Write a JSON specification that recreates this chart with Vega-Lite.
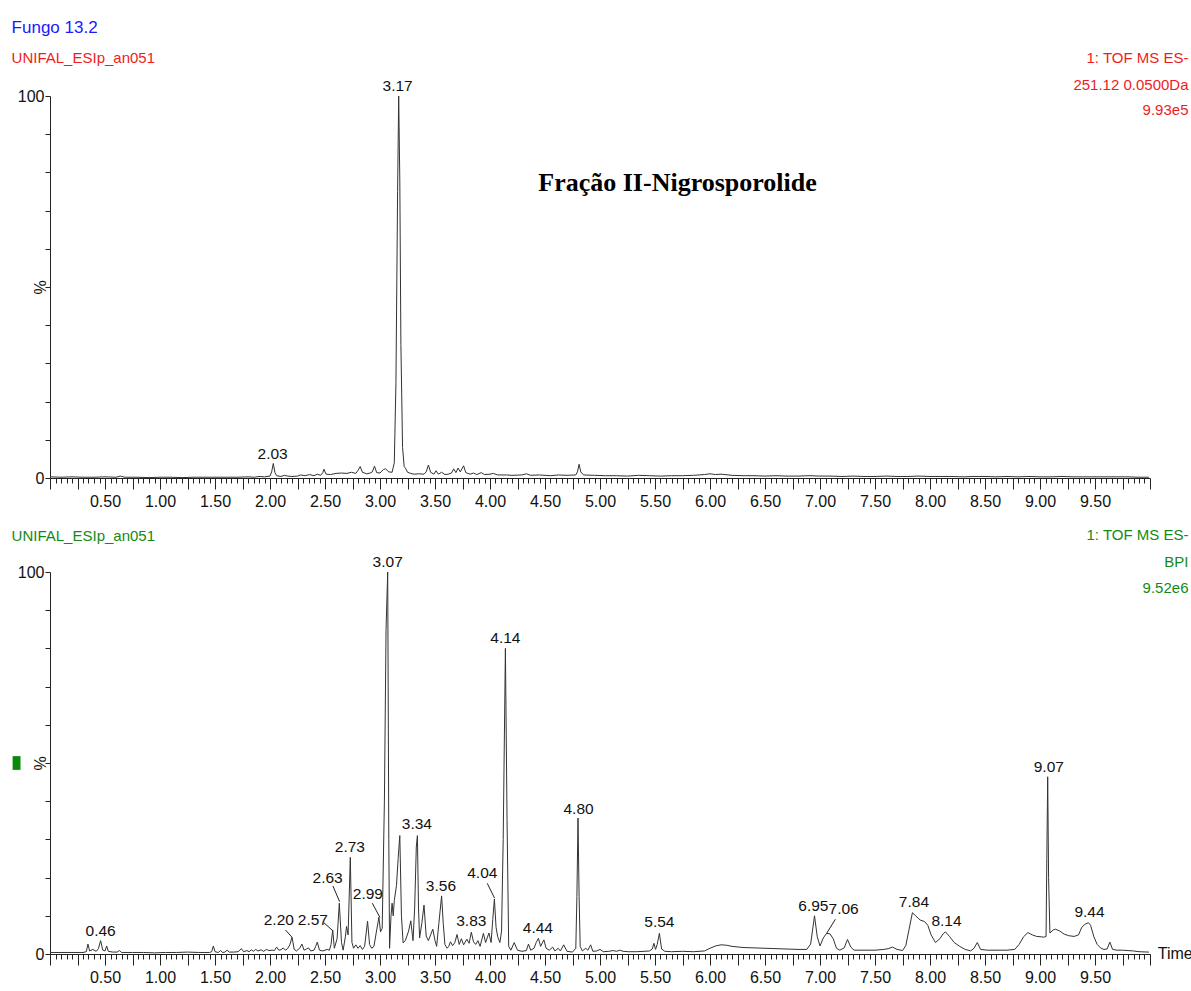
{
  "$schema": "https://vega.github.io/schema/vega-lite/v6.json",
  "background": "white",
  "padding": {"left": 11, "top": 19, "right": 2, "bottom": 2},
  "spacing": 94,
  "bounds": "flush",
  "config": {
    "view": {"stroke": null},
    "font": "Liberation Sans",
    "axis": {
      "labelFont": "Liberation Sans",
      "labelFontSize": 16,
      "labelColor": "#111",
      "domainColor": "#222",
      "tickColor": "#222",
      "grid": false,
      "titleFont": "Liberation Sans",
      "titleFontWeight": "normal",
      "titleFontSize": 16,
      "titleColor": "#111"
    },
    "axisX": {
      "tickCount": 200,
      "labelOverlap": false,
      "labelFlush": false,
      "labelBound": false,
      "labelPadding": 4,
      "tickSize": {"condition": {"test": "abs(datum.value * 4 - round(datum.value * 4)) < 0.000001", "value": 11}, "value": 5},
      "labelExpr": "(abs(datum.value * 2 - round(datum.value * 2)) < 0.000001 && datum.value > 0.1 && datum.value < 9.9) ? format(datum.value, '.2f') : ''"
    },
    "axisY": {
      "values": [0, 10, 20, 30, 40, 50, 60, 70, 80, 90, 100],
      "tickSize": 5,
      "labelPadding": 1,
      "labelExpr": "datum.value == 0 || datum.value == 100 ? datum.label : ''",
      "titleX": -10,
      "titleY": 191,
      "titleAlign": "center",
      "titleBaseline": "middle"
    },
    "text": {"font": "Liberation Sans", "fontSize": 15.5}
  },
  "datasets": {
    "eic": [
      {"t": 0, "pct": 0.3}, {"t": 0.1, "pct": 0.2}, {"t": 0.2, "pct": 0.3}, {"t": 0.3, "pct": 0.2}, {"t": 0.4, "pct": 0.2},
      {"t": 0.5, "pct": 0.3}, {"t": 0.6, "pct": 0.2}, {"t": 0.64, "pct": 0.5}, {"t": 0.68, "pct": 0.2}, {"t": 0.8, "pct": 0.2},
      {"t": 0.9, "pct": 0.1}, {"t": 1.0, "pct": 0.2}, {"t": 1.1, "pct": 0.2}, {"t": 1.2, "pct": 0.1}, {"t": 1.3, "pct": 0.2},
      {"t": 1.4, "pct": 0.2}, {"t": 1.5, "pct": 0.2}, {"t": 1.6, "pct": 0.2}, {"t": 1.7, "pct": 0.2}, {"t": 1.8, "pct": 0.3},
      {"t": 1.86, "pct": 0.2}, {"t": 1.9, "pct": 0.4}, {"t": 1.95, "pct": 0.3}, {"t": 2.0, "pct": 0.5}, {"t": 2.015, "pct": 1.6},
      {"t": 2.03, "pct": 3.8}, {"t": 2.045, "pct": 1.4}, {"t": 2.06, "pct": 0.6}, {"t": 2.1, "pct": 0.4}, {"t": 2.13, "pct": 0.7},
      {"t": 2.16, "pct": 0.5}, {"t": 2.2, "pct": 0.4}, {"t": 2.25, "pct": 0.5}, {"t": 2.28, "pct": 0.8}, {"t": 2.32, "pct": 0.6},
      {"t": 2.36, "pct": 0.9}, {"t": 2.4, "pct": 0.6}, {"t": 2.43, "pct": 1.0}, {"t": 2.46, "pct": 0.7}, {"t": 2.48, "pct": 1.4},
      {"t": 2.49, "pct": 2.3}, {"t": 2.51, "pct": 1.0}, {"t": 2.55, "pct": 0.9}, {"t": 2.6, "pct": 1.2}, {"t": 2.65, "pct": 1.3},
      {"t": 2.7, "pct": 1.2}, {"t": 2.74, "pct": 1.5}, {"t": 2.78, "pct": 1.2}, {"t": 2.8, "pct": 2.0}, {"t": 2.82, "pct": 3.0},
      {"t": 2.84, "pct": 1.5}, {"t": 2.88, "pct": 1.1}, {"t": 2.91, "pct": 1.3}, {"t": 2.93, "pct": 1.6}, {"t": 2.95, "pct": 3.1},
      {"t": 2.97, "pct": 1.4}, {"t": 3.0, "pct": 1.3}, {"t": 3.03, "pct": 2.2}, {"t": 3.05, "pct": 2.4}, {"t": 3.08, "pct": 1.6},
      {"t": 3.11, "pct": 1.5}, {"t": 3.13, "pct": 4}, {"t": 3.145, "pct": 25}, {"t": 3.16, "pct": 75}, {"t": 3.17, "pct": 100},
      {"t": 3.18, "pct": 78}, {"t": 3.19, "pct": 35}, {"t": 3.205, "pct": 8}, {"t": 3.22, "pct": 3.0}, {"t": 3.235, "pct": 2.4},
      {"t": 3.25, "pct": 1.5}, {"t": 3.28, "pct": 1.2}, {"t": 3.31, "pct": 1.0}, {"t": 3.35, "pct": 1.1}, {"t": 3.4, "pct": 1.0},
      {"t": 3.42, "pct": 1.6}, {"t": 3.44, "pct": 3.4}, {"t": 3.46, "pct": 1.5}, {"t": 3.49, "pct": 1.0}, {"t": 3.51, "pct": 1.9},
      {"t": 3.53, "pct": 1.0}, {"t": 3.56, "pct": 1.5}, {"t": 3.59, "pct": 0.9}, {"t": 3.62, "pct": 1.0}, {"t": 3.65, "pct": 1.3},
      {"t": 3.67, "pct": 2.4}, {"t": 3.69, "pct": 1.4}, {"t": 3.71, "pct": 2.6}, {"t": 3.73, "pct": 1.6}, {"t": 3.76, "pct": 3.2},
      {"t": 3.78, "pct": 1.4}, {"t": 3.82, "pct": 1.0}, {"t": 3.85, "pct": 1.3}, {"t": 3.88, "pct": 0.9}, {"t": 3.92, "pct": 1.4},
      {"t": 3.95, "pct": 0.9}, {"t": 4.0, "pct": 1.0}, {"t": 4.03, "pct": 1.2}, {"t": 4.07, "pct": 0.8}, {"t": 4.15, "pct": 0.8},
      {"t": 4.2, "pct": 0.7}, {"t": 4.29, "pct": 0.8}, {"t": 4.33, "pct": 1.1}, {"t": 4.37, "pct": 0.7}, {"t": 4.45, "pct": 0.8},
      {"t": 4.55, "pct": 0.6}, {"t": 4.62, "pct": 0.8}, {"t": 4.7, "pct": 0.7}, {"t": 4.78, "pct": 0.8}, {"t": 4.795, "pct": 1.6},
      {"t": 4.81, "pct": 3.6}, {"t": 4.825, "pct": 1.6}, {"t": 4.85, "pct": 0.8}, {"t": 4.95, "pct": 0.7}, {"t": 5.05, "pct": 0.6},
      {"t": 5.15, "pct": 0.6}, {"t": 5.25, "pct": 0.5}, {"t": 5.35, "pct": 0.7}, {"t": 5.45, "pct": 0.6}, {"t": 5.55, "pct": 0.5},
      {"t": 5.65, "pct": 0.6}, {"t": 5.75, "pct": 0.6}, {"t": 5.85, "pct": 0.7}, {"t": 5.95, "pct": 0.9}, {"t": 6.0, "pct": 1.1},
      {"t": 6.05, "pct": 0.9}, {"t": 6.1, "pct": 1.0}, {"t": 6.2, "pct": 0.7}, {"t": 6.3, "pct": 0.6}, {"t": 6.4, "pct": 0.6},
      {"t": 6.5, "pct": 0.5}, {"t": 6.6, "pct": 0.6}, {"t": 6.7, "pct": 0.5}, {"t": 6.8, "pct": 0.5}, {"t": 6.9, "pct": 0.6},
      {"t": 7.0, "pct": 0.5}, {"t": 7.1, "pct": 0.5}, {"t": 7.2, "pct": 0.4}, {"t": 7.3, "pct": 0.5}, {"t": 7.4, "pct": 0.4},
      {"t": 7.5, "pct": 0.4}, {"t": 7.6, "pct": 0.5}, {"t": 7.7, "pct": 0.4}, {"t": 7.8, "pct": 0.4}, {"t": 7.9, "pct": 0.5},
      {"t": 8.0, "pct": 0.4}, {"t": 8.1, "pct": 0.4}, {"t": 8.2, "pct": 0.4}, {"t": 8.3, "pct": 0.3}, {"t": 8.4, "pct": 0.4},
      {"t": 8.5, "pct": 0.4}, {"t": 8.6, "pct": 0.3}, {"t": 8.7, "pct": 0.4}, {"t": 8.8, "pct": 0.3}, {"t": 8.9, "pct": 0.4},
      {"t": 9.0, "pct": 0.3}, {"t": 9.1, "pct": 0.3}, {"t": 9.2, "pct": 0.4}, {"t": 9.3, "pct": 0.3}, {"t": 9.4, "pct": 0.3},
      {"t": 9.5, "pct": 0.3}, {"t": 9.6, "pct": 0.3}, {"t": 9.7, "pct": 0.3}, {"t": 9.8, "pct": 0.3}, {"t": 9.9, "pct": 0.2},
      {"t": 9.99, "pct": 0.2}
    ],
    "bpi": [
      {"t": 0, "pct": 0.4}, {"t": 0.1, "pct": 0.4}, {"t": 0.2, "pct": 0.4}, {"t": 0.3, "pct": 0.4}, {"t": 0.33, "pct": 0.6},
      {"t": 0.345, "pct": 2.6}, {"t": 0.36, "pct": 0.8}, {"t": 0.39, "pct": 1.2}, {"t": 0.42, "pct": 0.7}, {"t": 0.44, "pct": 1.4},
      {"t": 0.46, "pct": 3.5}, {"t": 0.48, "pct": 1.0}, {"t": 0.5, "pct": 0.8}, {"t": 0.515, "pct": 2.1}, {"t": 0.53, "pct": 0.7},
      {"t": 0.57, "pct": 0.5}, {"t": 0.61, "pct": 0.5}, {"t": 0.633, "pct": 0.9}, {"t": 0.65, "pct": 0.4}, {"t": 0.75, "pct": 0.4},
      {"t": 0.85, "pct": 0.4}, {"t": 0.95, "pct": 0.3}, {"t": 1.05, "pct": 0.4}, {"t": 1.15, "pct": 0.4}, {"t": 1.25, "pct": 0.5},
      {"t": 1.35, "pct": 0.4}, {"t": 1.45, "pct": 0.4}, {"t": 1.47, "pct": 0.6}, {"t": 1.485, "pct": 2.1}, {"t": 1.5, "pct": 0.6},
      {"t": 1.53, "pct": 0.4}, {"t": 1.55, "pct": 0.9}, {"t": 1.57, "pct": 0.4}, {"t": 1.59, "pct": 0.5}, {"t": 1.61, "pct": 1.0},
      {"t": 1.63, "pct": 0.5}, {"t": 1.67, "pct": 0.5}, {"t": 1.71, "pct": 0.6}, {"t": 1.74, "pct": 1.4}, {"t": 1.76, "pct": 0.6},
      {"t": 1.79, "pct": 0.9}, {"t": 1.81, "pct": 0.6}, {"t": 1.83, "pct": 1.1}, {"t": 1.85, "pct": 0.7}, {"t": 1.87, "pct": 1.2},
      {"t": 1.89, "pct": 0.8}, {"t": 1.92, "pct": 1.1}, {"t": 1.94, "pct": 0.7}, {"t": 1.97, "pct": 1.2}, {"t": 1.99, "pct": 0.9},
      {"t": 2.02, "pct": 1.0}, {"t": 2.04, "pct": 0.9}, {"t": 2.06, "pct": 1.8}, {"t": 2.08, "pct": 1.0}, {"t": 2.1, "pct": 1.1},
      {"t": 2.12, "pct": 1.6}, {"t": 2.14, "pct": 1.0}, {"t": 2.16, "pct": 1.4}, {"t": 2.18, "pct": 2.4}, {"t": 2.2, "pct": 4.4},
      {"t": 2.22, "pct": 1.2}, {"t": 2.24, "pct": 0.8}, {"t": 2.27, "pct": 1.5}, {"t": 2.29, "pct": 2.6}, {"t": 2.31, "pct": 1.0},
      {"t": 2.33, "pct": 1.3}, {"t": 2.35, "pct": 1.6}, {"t": 2.37, "pct": 0.8}, {"t": 2.4, "pct": 1.0}, {"t": 2.415, "pct": 2.0},
      {"t": 2.43, "pct": 3.1}, {"t": 2.45, "pct": 1.0}, {"t": 2.48, "pct": 0.8}, {"t": 2.5, "pct": 1.0}, {"t": 2.52, "pct": 1.2},
      {"t": 2.54, "pct": 1.0}, {"t": 2.555, "pct": 2.5}, {"t": 2.57, "pct": 6.3}, {"t": 2.585, "pct": 1.5}, {"t": 2.61, "pct": 4.0},
      {"t": 2.63, "pct": 13.3}, {"t": 2.65, "pct": 3.0}, {"t": 2.665, "pct": 1.0}, {"t": 2.685, "pct": 4.5}, {"t": 2.696, "pct": 7.2},
      {"t": 2.71, "pct": 5.0}, {"t": 2.73, "pct": 25.3}, {"t": 2.745, "pct": 3.0}, {"t": 2.76, "pct": 1.5}, {"t": 2.78, "pct": 2.4},
      {"t": 2.8, "pct": 1.5}, {"t": 2.82, "pct": 2.2}, {"t": 2.84, "pct": 1.2}, {"t": 2.86, "pct": 2.0}, {"t": 2.887, "pct": 8.6},
      {"t": 2.905, "pct": 2.5}, {"t": 2.925, "pct": 1.5}, {"t": 2.945, "pct": 2.0}, {"t": 2.97, "pct": 6.3}, {"t": 2.99, "pct": 9.6},
      {"t": 3.005, "pct": 5.8}, {"t": 3.02, "pct": 6.7}, {"t": 3.04, "pct": 40}, {"t": 3.055, "pct": 85}, {"t": 3.07, "pct": 100},
      {"t": 3.08, "pct": 30}, {"t": 3.087, "pct": 1.5}, {"t": 3.1, "pct": 10}, {"t": 3.11, "pct": 13.3}, {"t": 3.12, "pct": 10},
      {"t": 3.13, "pct": 14}, {"t": 3.15, "pct": 18}, {"t": 3.165, "pct": 25}, {"t": 3.18, "pct": 31}, {"t": 3.195, "pct": 10},
      {"t": 3.21, "pct": 2.9}, {"t": 3.23, "pct": 3.5}, {"t": 3.26, "pct": 6}, {"t": 3.28, "pct": 8.7}, {"t": 3.3, "pct": 3.5},
      {"t": 3.315, "pct": 12}, {"t": 3.33, "pct": 28}, {"t": 3.34, "pct": 31}, {"t": 3.35, "pct": 12}, {"t": 3.36, "pct": 4.2},
      {"t": 3.38, "pct": 8}, {"t": 3.4, "pct": 12.8}, {"t": 3.42, "pct": 4.7}, {"t": 3.44, "pct": 3.5}, {"t": 3.46, "pct": 5},
      {"t": 3.48, "pct": 6.5}, {"t": 3.5, "pct": 3.5}, {"t": 3.515, "pct": 2.0}, {"t": 3.535, "pct": 8}, {"t": 3.56, "pct": 15.2},
      {"t": 3.575, "pct": 8}, {"t": 3.59, "pct": 2.5}, {"t": 3.61, "pct": 1.5}, {"t": 3.625, "pct": 2.0}, {"t": 3.64, "pct": 3.2},
      {"t": 3.66, "pct": 2.2}, {"t": 3.68, "pct": 3.0}, {"t": 3.7, "pct": 5.1}, {"t": 3.72, "pct": 2.5}, {"t": 3.74, "pct": 4.0},
      {"t": 3.76, "pct": 2.4}, {"t": 3.79, "pct": 3.9}, {"t": 3.81, "pct": 2.8}, {"t": 3.83, "pct": 5.7}, {"t": 3.85, "pct": 3.2},
      {"t": 3.87, "pct": 2.5}, {"t": 3.89, "pct": 3.5}, {"t": 3.91, "pct": 2.0}, {"t": 3.94, "pct": 5.4}, {"t": 3.96, "pct": 3.0},
      {"t": 3.99, "pct": 5.5}, {"t": 4.01, "pct": 3.0}, {"t": 4.025, "pct": 9}, {"t": 4.04, "pct": 14.4}, {"t": 4.055, "pct": 7},
      {"t": 4.07, "pct": 4.5}, {"t": 4.09, "pct": 3.0}, {"t": 4.105, "pct": 6}, {"t": 4.12, "pct": 30}, {"t": 4.14, "pct": 80},
      {"t": 4.155, "pct": 35}, {"t": 4.17, "pct": 2.0}, {"t": 4.19, "pct": 1.0}, {"t": 4.22, "pct": 3.0}, {"t": 4.25, "pct": 1.0},
      {"t": 4.29, "pct": 0.7}, {"t": 4.33, "pct": 0.9}, {"t": 4.35, "pct": 2.6}, {"t": 4.37, "pct": 1.0}, {"t": 4.4, "pct": 1.5},
      {"t": 4.42, "pct": 3.0}, {"t": 4.44, "pct": 4.1}, {"t": 4.46, "pct": 2.0}, {"t": 4.49, "pct": 3.7}, {"t": 4.51, "pct": 1.5},
      {"t": 4.54, "pct": 1.0}, {"t": 4.57, "pct": 1.8}, {"t": 4.59, "pct": 0.8}, {"t": 4.62, "pct": 1.5}, {"t": 4.64, "pct": 0.8},
      {"t": 4.67, "pct": 2.4}, {"t": 4.7, "pct": 0.7}, {"t": 4.75, "pct": 0.5}, {"t": 4.78, "pct": 1.5}, {"t": 4.79, "pct": 15},
      {"t": 4.8, "pct": 35.6}, {"t": 4.81, "pct": 15}, {"t": 4.82, "pct": 2.0}, {"t": 4.84, "pct": 0.8}, {"t": 4.87, "pct": 1.5},
      {"t": 4.89, "pct": 1.0}, {"t": 4.915, "pct": 2.4}, {"t": 4.935, "pct": 0.7}, {"t": 4.97, "pct": 0.8}, {"t": 5.0, "pct": 1.2},
      {"t": 5.03, "pct": 0.6}, {"t": 5.08, "pct": 0.7}, {"t": 5.12, "pct": 0.9}, {"t": 5.15, "pct": 0.7}, {"t": 5.18, "pct": 1.0},
      {"t": 5.21, "pct": 0.7}, {"t": 5.26, "pct": 0.6}, {"t": 5.33, "pct": 0.6}, {"t": 5.4, "pct": 0.7}, {"t": 5.45, "pct": 0.8},
      {"t": 5.475, "pct": 1.3}, {"t": 5.49, "pct": 2.8}, {"t": 5.505, "pct": 1.2}, {"t": 5.52, "pct": 2.5}, {"t": 5.54, "pct": 5.4},
      {"t": 5.56, "pct": 1.3}, {"t": 5.59, "pct": 0.7}, {"t": 5.65, "pct": 0.6}, {"t": 5.75, "pct": 0.7}, {"t": 5.85, "pct": 0.6},
      {"t": 5.95, "pct": 0.8}, {"t": 6.0, "pct": 1.5}, {"t": 6.05, "pct": 2.1}, {"t": 6.1, "pct": 2.4}, {"t": 6.15, "pct": 2.3},
      {"t": 6.2, "pct": 2.0}, {"t": 6.3, "pct": 1.7}, {"t": 6.4, "pct": 1.6}, {"t": 6.5, "pct": 1.5}, {"t": 6.6, "pct": 1.4},
      {"t": 6.7, "pct": 1.3}, {"t": 6.8, "pct": 1.2}, {"t": 6.88, "pct": 1.2}, {"t": 6.915, "pct": 2.6}, {"t": 6.95, "pct": 10.0},
      {"t": 6.975, "pct": 4.5}, {"t": 7.0, "pct": 2.1}, {"t": 7.03, "pct": 4.2}, {"t": 7.06, "pct": 5.4}, {"t": 7.09, "pct": 5.3},
      {"t": 7.12, "pct": 4.0}, {"t": 7.15, "pct": 1.5}, {"t": 7.18, "pct": 1.0}, {"t": 7.22, "pct": 1.6}, {"t": 7.25, "pct": 3.8},
      {"t": 7.28, "pct": 1.8}, {"t": 7.31, "pct": 1.0}, {"t": 7.4, "pct": 1.0}, {"t": 7.5, "pct": 1.0}, {"t": 7.58, "pct": 1.2},
      {"t": 7.62, "pct": 1.4}, {"t": 7.66, "pct": 1.8}, {"t": 7.7, "pct": 1.2}, {"t": 7.75, "pct": 0.9}, {"t": 7.78, "pct": 2.2},
      {"t": 7.81, "pct": 6.5}, {"t": 7.84, "pct": 10.8}, {"t": 7.87, "pct": 10.0}, {"t": 7.91, "pct": 8.9}, {"t": 7.95, "pct": 8.5},
      {"t": 7.98, "pct": 7.5}, {"t": 8.01, "pct": 5.0}, {"t": 8.05, "pct": 3.0}, {"t": 8.09, "pct": 4.0}, {"t": 8.12, "pct": 5.3},
      {"t": 8.14, "pct": 5.8}, {"t": 8.18, "pct": 4.5}, {"t": 8.22, "pct": 3.0}, {"t": 8.27, "pct": 2.0}, {"t": 8.32, "pct": 1.2},
      {"t": 8.37, "pct": 0.8}, {"t": 8.4, "pct": 1.5}, {"t": 8.43, "pct": 3.0}, {"t": 8.46, "pct": 1.2}, {"t": 8.52, "pct": 1.0},
      {"t": 8.6, "pct": 1.0}, {"t": 8.7, "pct": 1.0}, {"t": 8.77, "pct": 1.2}, {"t": 8.81, "pct": 2.5}, {"t": 8.85, "pct": 4.5},
      {"t": 8.89, "pct": 5.6}, {"t": 8.93, "pct": 5.0}, {"t": 8.97, "pct": 4.6}, {"t": 9.01, "pct": 4.5}, {"t": 9.035, "pct": 4.4},
      {"t": 9.055, "pct": 4.6}, {"t": 9.062, "pct": 25}, {"t": 9.07, "pct": 46.4}, {"t": 9.078, "pct": 20}, {"t": 9.09, "pct": 5.5},
      {"t": 9.12, "pct": 6.3}, {"t": 9.14, "pct": 6.5}, {"t": 9.18, "pct": 6.0}, {"t": 9.22, "pct": 5.2}, {"t": 9.26, "pct": 4.8},
      {"t": 9.31, "pct": 4.6}, {"t": 9.35, "pct": 5.0}, {"t": 9.38, "pct": 7.0}, {"t": 9.41, "pct": 7.8}, {"t": 9.44, "pct": 8.2},
      {"t": 9.46, "pct": 7.5}, {"t": 9.49, "pct": 4.5}, {"t": 9.52, "pct": 2.5}, {"t": 9.55, "pct": 1.6}, {"t": 9.58, "pct": 1.2},
      {"t": 9.61, "pct": 1.3}, {"t": 9.635, "pct": 3.1}, {"t": 9.66, "pct": 1.2}, {"t": 9.7, "pct": 1.0}, {"t": 9.75, "pct": 1.0},
      {"t": 9.8, "pct": 0.9}, {"t": 9.85, "pct": 0.8}, {"t": 9.9, "pct": 0.6}, {"t": 9.99, "pct": 0.5}
    ],
    "eicLabels": [
      {"label": "2.03", "t": 2.024, "pct": 5.0},
      {"label": "3.17", "t": 3.16, "pct": 101.3}
    ],
    "bpiLabels": [
      {"label": "0.46", "t": 0.46, "pct": 4.6},
      {"label": "2.20", "t": 2.08, "pct": 7.6},
      {"label": "2.57", "t": 2.39, "pct": 7.6},
      {"label": "2.63", "t": 2.524, "pct": 18.7},
      {"label": "2.73", "t": 2.726, "pct": 26.8},
      {"label": "2.99", "t": 2.89, "pct": 14.3},
      {"label": "3.07", "t": 3.07, "pct": 101.3},
      {"label": "3.34", "t": 3.335, "pct": 32.6},
      {"label": "3.56", "t": 3.554, "pct": 16.6},
      {"label": "3.83", "t": 3.83, "pct": 7.3},
      {"label": "4.04", "t": 3.93, "pct": 19.8},
      {"label": "4.14", "t": 4.14, "pct": 81.4},
      {"label": "4.44", "t": 4.435, "pct": 5.6},
      {"label": "4.80", "t": 4.805, "pct": 36.6},
      {"label": "5.54", "t": 5.54, "pct": 7.0},
      {"label": "6.95", "t": 6.94, "pct": 11.3},
      {"label": "7.06", "t": 7.215, "pct": 10.6},
      {"label": "7.84", "t": 7.854, "pct": 12.4},
      {"label": "8.14", "t": 8.15, "pct": 7.2},
      {"label": "9.07", "t": 9.08, "pct": 47.7},
      {"label": "9.44", "t": 9.45, "pct": 9.8}
    ],
    "bpiLeaders": [
      {"t": 2.14, "pct": 6.3, "t2": 2.2, "pct2": 4.4},
      {"t": 2.49, "pct": 8.2, "t2": 2.57, "pct2": 6.1},
      {"t": 2.572, "pct": 17.8, "t2": 2.633, "pct2": 13.7},
      {"t": 2.93, "pct": 13.3, "t2": 2.999, "pct2": 9.6},
      {"t": 3.975, "pct": 18.5, "t2": 4.042, "pct2": 14.6},
      {"t": 7.14, "pct": 9.1, "t2": 7.06, "pct2": 5.4}
    ]
  },
  "vconcat": [
    {
      "width": 1100,
      "height": 382,
      "layer": [
        {
          "data": {"name": "eic"},
          "mark": {"type": "line", "color": "#333", "strokeWidth": 1},
          "encoding": {
            "x": {"field": "t", "type": "quantitative", "scale": {"domain": [0, 10], "nice": false, "zero": false}, "axis": {"title": null}},
            "y": {"field": "pct", "type": "quantitative", "scale": {"domain": [0, 100], "nice": false}, "axis": {"title": "%"}}
          }
        },
        {
          "data": {"name": "eicLabels"},
          "mark": {"type": "text", "align": "center", "baseline": "alphabetic", "color": "#111"},
          "encoding": {
            "x": {"field": "t", "type": "quantitative"},
            "y": {"field": "pct", "type": "quantitative"},
            "text": {"field": "label"}
          }
        },
        {
          "data": {"values": [{"text": "Fungo 13.2", "t": -0.349, "pct": 116.4}]},
          "mark": {"type": "text", "align": "left", "baseline": "alphabetic", "color": "#1a1aff", "fontSize": 17},
          "encoding": {
            "x": {"field": "t", "type": "quantitative"},
            "y": {"field": "pct", "type": "quantitative"},
            "text": {"field": "text"}
          }
        },
        {
          "data": {"values": [{"text": "UNIFAL_ESIp_an051", "t": -0.349, "pct": 108.6}]},
          "mark": {"type": "text", "align": "left", "baseline": "alphabetic", "color": "#f01c1c", "fontSize": 15},
          "encoding": {
            "x": {"field": "t", "type": "quantitative"},
            "y": {"field": "pct", "type": "quantitative"},
            "text": {"field": "text"}
          }
        },
        {
          "data": {"values": [
            {"text": "1: TOF MS ES-", "t": 10.35, "pct": 108.6},
            {"text": "251.12 0.0500Da", "t": 10.35, "pct": 101.6},
            {"text": "9.93e5", "t": 10.35, "pct": 95.0}
          ]},
          "mark": {"type": "text", "align": "right", "baseline": "alphabetic", "color": "#f01c1c", "fontSize": 15},
          "encoding": {
            "x": {"field": "t", "type": "quantitative"},
            "y": {"field": "pct", "type": "quantitative"},
            "text": {"field": "text"}
          }
        },
        {
          "data": {"values": [{"text": "Fração II-Nigrosporolide", "t": 5.705, "pct": 77.2}]},
          "mark": {"type": "text", "align": "center", "baseline": "middle", "font": "Liberation Serif", "fontWeight": "bold", "fontSize": 26, "color": "#000"},
          "encoding": {
            "x": {"field": "t", "type": "quantitative"},
            "y": {"field": "pct", "type": "quantitative"},
            "text": {"field": "text"}
          }
        }
      ]
    },
    {
      "width": 1100,
      "height": 382,
      "layer": [
        {
          "data": {"name": "bpi"},
          "mark": {"type": "line", "color": "#333", "strokeWidth": 1},
          "encoding": {
            "x": {"field": "t", "type": "quantitative", "scale": {"domain": [0, 10], "nice": false, "zero": false}, "axis": {"title": null}},
            "y": {"field": "pct", "type": "quantitative", "scale": {"domain": [0, 100], "nice": false}, "axis": {"title": "%"}}
          }
        },
        {
          "data": {"name": "bpiLeaders"},
          "mark": {"type": "rule", "color": "#222", "strokeWidth": 1},
          "encoding": {
            "x": {"field": "t", "type": "quantitative"},
            "y": {"field": "pct", "type": "quantitative"},
            "x2": {"field": "t2"},
            "y2": {"field": "pct2"}
          }
        },
        {
          "data": {"name": "bpiLabels"},
          "mark": {"type": "text", "align": "center", "baseline": "alphabetic", "color": "#111"},
          "encoding": {
            "x": {"field": "t", "type": "quantitative"},
            "y": {"field": "pct", "type": "quantitative"},
            "text": {"field": "label"}
          }
        },
        {
          "data": {"values": [{"t": -0.34, "t2": -0.268, "pct": 48.2, "pct2": 51.8}]},
          "mark": {"type": "rect", "color": "#0a8a0a"},
          "encoding": {
            "x": {"field": "t", "type": "quantitative"},
            "x2": {"field": "t2"},
            "y": {"field": "pct", "type": "quantitative"},
            "y2": {"field": "pct2"}
          }
        },
        {
          "data": {"values": [{"text": "UNIFAL_ESIp_an051", "t": -0.349, "pct": 108.2}]},
          "mark": {"type": "text", "align": "left", "baseline": "alphabetic", "color": "#138a13", "fontSize": 15},
          "encoding": {
            "x": {"field": "t", "type": "quantitative"},
            "y": {"field": "pct", "type": "quantitative"},
            "text": {"field": "text"}
          }
        },
        {
          "data": {"values": [
            {"text": "1: TOF MS ES-", "t": 10.35, "pct": 108.4},
            {"text": "BPI", "t": 10.35, "pct": 101.2},
            {"text": "9.52e6", "t": 10.35, "pct": 94.4}
          ]},
          "mark": {"type": "text", "align": "right", "baseline": "alphabetic", "color": "#138a13", "fontSize": 15},
          "encoding": {
            "x": {"field": "t", "type": "quantitative"},
            "y": {"field": "pct", "type": "quantitative"},
            "text": {"field": "text"}
          }
        },
        {
          "data": {"values": [{"text": "Time", "t": 10.07, "pct": 0}]},
          "mark": {"type": "text", "align": "left", "baseline": "middle", "color": "#111", "fontSize": 16},
          "encoding": {
            "x": {"field": "t", "type": "quantitative"},
            "y": {"field": "pct", "type": "quantitative"},
            "text": {"field": "text"}
          }
        }
      ]
    }
  ]
}
